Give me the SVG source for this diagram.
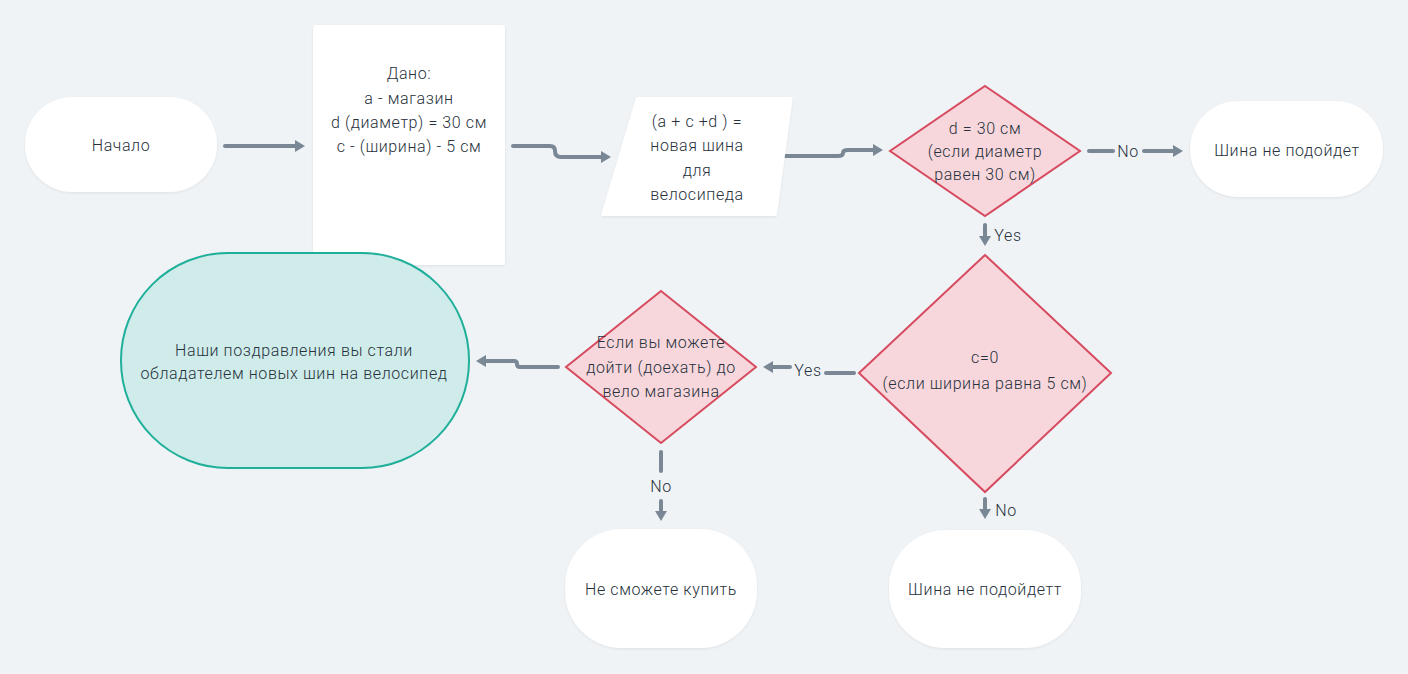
<svg xmlns="http://www.w3.org/2000/svg" width="1408" height="674" viewBox="0 0 1408 674">
<defs>
<marker id="ah" viewBox="0 0 10 12" refX="0" refY="6" markerWidth="10" markerHeight="12" orient="auto" markerUnits="userSpaceOnUse"><path d="M0 0 L10 6 L0 12 Z" fill="#7a8896"/></marker>
<filter id="sh" x="-10%" y="-10%" width="120%" height="130%"><feDropShadow dx="0" dy="1" stdDeviation="1.2" flood-color="#000" flood-opacity="0.08"/></filter>
<style>
.t{font-family:Roboto,"Liberation Sans",sans-serif;font-size:16px;font-weight:300;letter-spacing:0.6px;fill:#27313c;text-anchor:middle;dominant-baseline:central}
.w{fill:#ffffff;filter:url(#sh)}
.d{fill:#f8d7dc;stroke:#d64b5f;stroke-width:2}
.c{fill:none;stroke:#7a8896;stroke-width:4;stroke-linecap:round;stroke-linejoin:round}
.ca{marker-end:url(#ah)}
</style>
</defs>
<rect width="1408" height="674" fill="#f0f3f6"/>
<g id="connectors">
<path class="c ca" d="M225 146 H295"/>
<path class="c ca" d="M513 146 H550 Q555 146 555 151 Q555 157 561 157 H601"/>
<path class="c ca" d="M783 156 H838 Q843 156 843 153 Q843 150 848 150 H873"/>
<path class="c" d="M1089 151 H1113"/>
<path class="c ca" d="M1144 151 H1173"/>
<path class="c ca" d="M985 225 V236"/>
<path class="c" d="M854 373 H826"/>
<path class="c ca" d="M790 367 H773"/>
<path class="c ca" d="M985 499 V509"/>
<path class="c ca" d="M558 367 H520 Q517 367 517 364 Q517 361 514 361 H486"/>
<path class="c" d="M661 452 V471"/>
<path class="c ca" d="M661 501 V511"/>
<text class="t" x="1128" y="151">No</text>
<text class="t" x="1008" y="235">Yes</text>
<text class="t" x="808" y="370">Yes</text>
<text class="t" x="1006" y="510">No</text>
<text class="t" x="661" y="486">No</text>
</g>
<g id="start">
<rect class="w" x="25" y="97" width="192" height="95" rx="48" ry="47"/>
<text class="t" x="121" y="145">Начало</text>
</g>
<g id="given">
<rect class="w" x="313" y="25" width="192" height="240" rx="3"/>
<text class="t" x="409" y="73">Дано:</text>
<text class="t" x="409" y="98">а - магазин</text>
<text class="t" x="409" y="122">d (диаметр) = 30 см</text>
<text class="t" x="409" y="146">с - (ширина) - 5 см</text>
</g>
<g id="formula">
<path class="w" d="M638 97 H791 Q793 97 792.6 99 L777 214 Q776.7 216 774.5 216 H603 Q601 216 601.4 214 L635.6 99 Q636 97 638 97 Z"/>
<text class="t" x="697" y="121">(a + c +d ) =</text>
<text class="t" x="697" y="145">новая шина</text>
<text class="t" x="697" y="170">для</text>
<text class="t" x="697" y="194">велосипеда</text>
</g>
<g id="dec1">
<path class="d" d="M985 86 L1080 151 L985 216 L890 151 Z"/>
<text class="t" x="985" y="128">d = 30 см</text>
<text class="t" x="985" y="151">(если диаметр</text>
<text class="t" x="985" y="174">равен 30 см)</text>
</g>
<g id="nofit1">
<rect class="w" x="1190" y="101" width="193" height="96" rx="48" ry="48"/>
<text class="t" x="1287" y="150">Шина не подойдет</text>
</g>
<g id="dec2">
<path class="d" d="M985 255 L1111 373 L985 492 L859 373 Z"/>
<text class="t" x="985" y="357">c=0</text>
<text class="t" x="985" y="383">(если ширина равна 5 см)</text>
</g>
<g id="nofit2">
<rect class="w" x="889" y="530" width="192" height="118" rx="57" ry="57"/>
<text class="t" x="985" y="589">Шина не подойдетт</text>
</g>
<g id="dec3">
<path class="d" d="M661 291 L756 367 L661 443 L566 367 Z"/>
<text class="t" x="661" y="342">Если вы можете</text>
<text class="t" x="661" y="367">дойти (доехать) до</text>
<text class="t" x="661" y="391">вело магазина</text>
</g>
<g id="cantbuy">
<rect class="w" x="565" y="529" width="192" height="119" rx="57" ry="57"/>
<text class="t" x="661" y="589">Не сможете купить</text>
</g>
<g id="congrats">
<rect x="121" y="253" width="348" height="215" rx="107" ry="107" fill="#cfecea" stroke="#1faf9a" stroke-width="2"/>
<text class="t" x="294" y="350">Наши поздравления вы стали</text>
<text class="t" x="294" y="373">обладателем новых шин на велосипед</text>
</g>
</svg>
